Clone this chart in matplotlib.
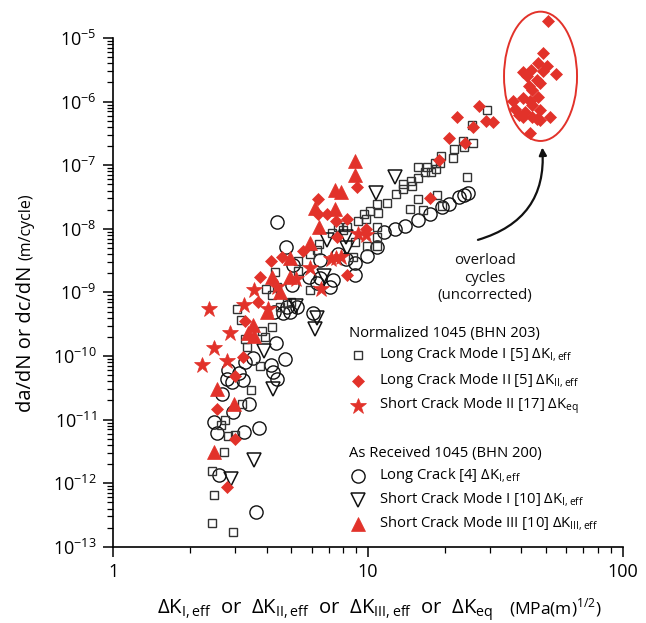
import matplotlib
matplotlib.use("Agg")
import matplotlib.pyplot as plt
from matplotlib.patches import Ellipse

plt.rcParams['font.family'] = ['Open Sans', 'DejaVu Sans']
plt.rcParams['mathtext.fontset'] = 'custom'
plt.rcParams['mathtext.rm'] = 'Open Sans'
plt.rcParams['axes.unicode_minus'] = False

RED = '#e2322a'

# Normalized 1045 (BHN 203)
long_mode1 = [(29.3, 7.4e-7), (25.6, 4.3e-7), (23.6, 2.4e-7), (25.8, 2.2e-7), (21.8, 1.8e-7),
              (23.8, 1.9e-7), (21.6, 1.3e-7), (19.4, 1.4e-7), (18.3, 1.08e-7), (19.2, 1.08e-7),
              (17.1, 9.4e-8), (15.7, 9.4e-8), (16.7, 7.8e-8), (17.7, 7.8e-8), (18.5, 8.7e-8),
              (15.7, 6.3e-8), (14.8, 5.6e-8), (13.7, 5.1e-8), (14.9, 4.7e-8), (13.7, 4.2e-8),
              (24.5, 6.5e-8), (12.9, 3.5e-8), (15.7, 2.9e-8), (18.7, 3.4e-8), (11.9, 2.55e-8),
              (10.8, 2.45e-8), (14.6, 2.05e-8), (16.4, 2.0e-8), (19.5, 2.3e-8), (10.2, 1.9e-8),
              (10.9, 1.8e-8), (9.6, 1.7e-8), (9.1, 1.33e-8), (9.8, 1.42e-8), (10.8, 1.07e-8),
              (8.3, 1.07e-8), (8.0, 9.6e-9), (10.8, 7.4e-9), (10.8, 5.4e-9), (9.9, 5.4e-9),
              (8.9, 6.2e-9), (6.4, 5.8e-9), (6.3, 4.6e-9), (5.9, 4.0e-9), (5.3, 3.1e-9),
              (5.3, 2.2e-9), (4.3, 2.1e-9), (3.98, 1.13e-9), (4.4, 1.2e-9), (7.2, 8.6e-9),
              (7.6, 1.07e-8), (4.2, 9.1e-10), (3.06, 5.5e-10), (4.5, 5.9e-10), (4.2, 2.9e-10),
              (3.84, 2.5e-10), (3.29, 1.85e-10), (3.94, 2.0e-10), (3.35, 1.4e-10), (5.9, 1.09e-9),
              (5.0, 7.1e-10), (4.8, 6.8e-10), (8.7, 3.6e-9), (3.77, 7.0e-11), (3.47, 2.9e-11),
              (3.20, 1.76e-11), (2.75, 9.9e-12), (2.65, 8.2e-12), (2.82, 5.5e-12), (3.0, 5.7e-12),
              (2.72, 3.1e-12), (2.44, 1.56e-12), (2.49, 6.5e-13), (2.44, 2.4e-13), (2.95, 1.7e-13),
              (3.17, 3.7e-10)]

long_mode2 = [(27.3, 8.5e-7), (22.4, 5.7e-7), (29.1, 5.0e-7), (31.0, 4.8e-7), (25.8, 4.0e-7),
              (20.8, 2.7e-7), (24.0, 2.2e-7), (19.0, 1.2e-7), (17.5, 3.05e-8), (6.36, 2.9e-8),
              (9.05, 4.5e-8), (6.36, 1.7e-8), (6.90, 1.7e-8), (7.49, 1.33e-8), (8.27, 1.42e-8),
              (9.82, 9.9e-9), (7.56, 7.4e-9), (5.56, 4.5e-9), (4.60, 3.6e-9), (4.16, 3.1e-9),
              (3.77, 1.75e-9), (8.27, 1.9e-9), (3.70, 7.1e-10), (3.29, 3.55e-10), (3.23, 9.6e-11),
              (3.00, 4.85e-11), (2.55, 1.47e-11), (3.00, 4.95e-12), (2.80, 8.7e-13)]

# overload cycles (uncorrected), also Long Crack Mode II
overload = [(51.0, 1.87e-5), (48.8, 5.9e-6), (46.6, 4.09e-6), (50.3, 3.63e-6), (48.5, 3.06e-6),
            (54.6, 2.72e-6), (40.7, 2.95e-6), (43.5, 3.14e-6), (42.0, 2.53e-6), (45.9, 2.19e-6),
            (47.1, 1.98e-6), (43.0, 1.76e-6), (43.9, 1.52e-6), (46.6, 1.17e-6), (43.3, 1.03e-6),
            (40.5, 1.13e-6), (37.2, 1.03e-6), (37.8, 7.57e-7), (43.9, 8.85e-7), (47.1, 7.38e-7),
            (41.3, 6.94e-7), (40.5, 5.67e-7), (43.9, 5.79e-7), (45.9, 5.27e-7), (47.3, 5.14e-7),
            (51.8, 5.67e-7), (43.3, 3.24e-7), (39.3, 6.15e-7)]

short_mode2 = [(2.38, 5.5e-10), (2.87, 2.3e-10), (2.49, 1.34e-10), (2.23, 7.2e-11), (2.80, 8.3e-11),
               (3.26, 6.3e-10), (3.57, 1.09e-9), (4.05, 5.5e-10), (5.92, 2.4e-9), (5.22, 1.6e-9),
               (6.54, 1.13e-9), (7.16, 3.35e-9), (7.49, 3.5e-9), (7.83, 3.6e-9), (9.14, 8.3e-9),
               (9.82, 8.0e-9), (4.39, 1.22e-9)]

# As Received 1045 (BHN 200)
long_crack = [(24.7, 3.7e-8), (23.8, 3.4e-8), (22.8, 3.2e-8), (20.8, 2.45e-8), (19.5, 2.2e-8),
              (17.5, 1.7e-8), (15.7, 1.38e-8), (14.0, 1.11e-8), (12.8, 9.9e-9), (11.6, 8.9e-9),
              (4.39, 1.28e-8), (4.77, 5.2e-9), (5.08, 2.7e-9), (6.48, 3.2e-9), (7.62, 4.0e-9),
              (8.2, 3.35e-9), (8.89, 2.9e-9), (9.9, 3.7e-9), (10.8, 5.2e-9), (8.89, 1.9e-9),
              (5.87, 1.75e-9), (6.31, 1.4e-9), (7.29, 1.57e-9), (7.09, 1.2e-9), (5.03, 1.3e-9),
              (6.48, 1.7e-9), (4.81, 5.9e-10), (4.94, 4.9e-10), (5.26, 5.9e-10), (4.64, 4.7e-10),
              (6.08, 4.7e-10), (4.28, 4.9e-10), (4.35, 1.6e-10), (3.54, 9.3e-11), (4.16, 7.2e-11),
              (4.72, 9.0e-11), (4.24, 5.6e-11), (4.39, 4.35e-11), (3.29, 8.0e-11), (2.82, 6.0e-11),
              (2.80, 4.35e-11), (2.92, 3.9e-11), (3.12, 5.4e-11), (3.23, 4.2e-11), (2.67, 2.5e-11),
              (3.41, 1.76e-11), (2.95, 1.32e-11), (2.49, 9.2e-12), (2.55, 6.2e-12), (3.26, 6.4e-12),
              (3.73, 7.4e-12), (2.60, 1.35e-12), (3.63, 3.5e-13)]

short_mode1 = [(12.8, 6.5e-8), (10.7, 3.7e-8), (6.90, 6.7e-9), (8.2, 7.4e-9), (8.27, 5.0e-9),
               (6.72, 1.8e-9), (5.22, 6.1e-10), (6.31, 4.0e-10), (6.19, 2.7e-10), (3.91, 1.2e-10),
               (4.24, 3.0e-11), (3.57, 2.3e-12), (2.90, 1.16e-12)]

short_mode3 = [(8.89, 1.16e-7), (8.89, 7.0e-8), (7.42, 4.1e-8), (7.83, 3.8e-8), (6.19, 2.1e-8),
               (7.42, 2.05e-8), (6.42, 1.07e-8), (5.92, 6.0e-9), (4.94, 3.5e-9), (4.20, 1.75e-9),
               (4.94, 1.75e-9), (4.51, 1.0e-9), (4.01, 4.9e-10), (3.54, 3.1e-10), (3.38, 2.3e-10),
               (3.57, 2.06e-10), (2.55, 3.0e-11), (2.98, 1.76e-11), (2.49, 3.1e-12)]

styles = {
    'sq': dict(marker='s', ms=5.2, mfc='none', mec='#333333', mew=1.0),
    'dm': dict(marker='D', ms=5.8, mfc=RED, mec=RED, mew=0.5),
    'st': dict(marker='*', ms=12, mfc=RED, mec=RED, mew=0.5),
    'ci': dict(marker='o', ms=9.5, mfc='none', mec='#111111', mew=1.0),
    'tv': dict(marker='v', ms=10, mfc='none', mec='#111111', mew=1.1),
    'tu': dict(marker='^', ms=10, mfc=RED, mec=RED, mew=0.5),
}


def xy(points):
    return [p[0] for p in points], [p[1] for p in points]


fig = plt.figure(figsize=(6.46, 6.23), dpi=100)
ax = fig.add_axes([0.1754, 0.1223, 0.7887, 0.8167])

for pts, key in [(long_crack, 'ci'), (long_mode1, 'sq'), (short_mode1, 'tv'),
                 (long_mode2, 'dm'), (short_mode2, 'st'), (short_mode3, 'tu')]:
    x, y = xy(pts)
    ax.plot(x, y, ls='none', **styles[key])
x, y = xy(overload)
ax.plot(x, y, ls='none', clip_on=False, **styles['dm'])

ax.set_xscale('log')
ax.set_yscale('log')
ax.set_xlim(1, 100)
ax.set_ylim(1e-13, 1e-5)
for s in ['top', 'right']:
    ax.spines[s].set_visible(False)
for s in ['left', 'bottom']:
    ax.spines[s].set_linewidth(1.2)
ax.tick_params(which='major', length=7, width=1.1, labelsize=13, pad=5)
ax.tick_params(which='minor', length=4, width=0.9)
ax.xaxis.set_major_formatter(matplotlib.ticker.FuncFormatter(lambda v, p: f'{v:g}'))

# overload ellipse + arrow
ax.add_patch(Ellipse((0.8385, 0.9247), 0.1433, 0.2541, transform=ax.transAxes,
                     fill=False, ec=RED, lw=1.4, clip_on=False))
ax.annotate('', xy=(48.3, 1.9e-7), xytext=(27.0, 6.7e-9),
            arrowprops=dict(arrowstyle='-|>', color='#111111', lw=1.6,
                            mutation_scale=11, connectionstyle='arc3,rad=0.4',
                            shrinkA=0, shrinkB=0))
fig.text(485 / 646, 1 - 253 / 623, 'overload\ncycles\n(uncorrected)', ha='center', va='top',
         fontsize=10.8, linespacing=1.25, color='#111111')

# axis labels
fig.text(26 / 646, 1 - 266 / 623, 'da/dN or dc/dN', rotation=90, rotation_mode='anchor',
         ha='right', va='center', fontsize=14.5)
fig.text(26 / 646, 1 - 260 / 623, '(m/cycle)', rotation=90, rotation_mode='anchor',
         ha='left', va='center', fontsize=11.5)
fig.text(493 / 646, 1 - 614 / 623,
         r'ΔK$_{\mathregular{I,eff}}$  or  ΔK$_{\mathregular{II,eff}}$  or  '
         r'ΔK$_{\mathregular{III,eff}}$  or  ΔK$_{\mathregular{eq}}$',
         ha='right', va='baseline', fontsize=14.6)
fig.text(509 / 646, 1 - 614 / 623, r'(MPa(m)$^{\mathregular{1/2}}$)',
         ha='left', va='baseline', fontsize=12.5)

# legend
headers = [('Normalized 1045 (BHN 203)', 333), ('As Received 1045 (BHN 200)', 453)]
rows = [('sq', r'Long Crack Mode I [5] ΔK$_{\mathregular{I,eff}}$', 355),
        ('dm', r'Long Crack Mode II [5] ΔK$_{\mathregular{II,eff}}$', 381),
        ('st', r'Short Crack Mode II [17] ΔK$_{\mathregular{eq}}$', 406),
        ('ci', r'Long Crack [4] ΔK$_{\mathregular{I,eff}}$', 476),
        ('tv', r'Short Crack Mode I [10] ΔK$_{\mathregular{I,eff}}$', 500),
        ('tu', r'Short Crack Mode III [10] ΔK$_{\mathregular{III,eff}}$', 524)]
for text, py in headers:
    fig.text(349 / 646, 1 - py / 623, text, ha='left', va='center', fontsize=10.6)
for key, text, py in rows:
    ax.plot([358 / 646], [1 - py / 623], transform=fig.transFigure, clip_on=False,
            ls='none', **styles[key])
    fig.text(379 / 646, 1 - py / 623, text, ha='left', va='center', fontsize=10.6)

fig.savefig('out.png', dpi=100)
